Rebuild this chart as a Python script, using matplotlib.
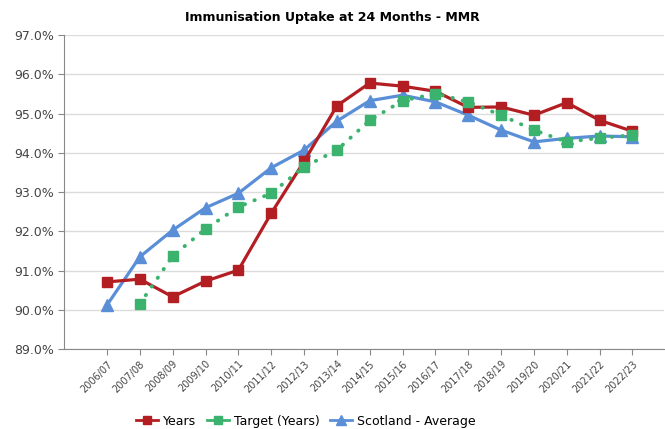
import numpy as np
import matplotlib.pyplot as plt
from matplotlib.lines import Line2D

plt.rcParams['font.family'] = ['DejaVu Sans']

years = ['2006/07', '2007/08', '2008/09', '2009/10', '2010/11', '2011/12',
         '2012/13', '2013/14', '2014/15', '2015/16', '2016/17', '2017/18',
         '2018/19', '2019/20', '2020/21', '2021/22', '2022/23']

uptake = [90.71, 90.78, 90.33, 90.73, 91.01, 92.46, 93.78, 95.20, 95.78,
          95.70, 95.57, 95.16, 95.17, 94.96, 95.28, 94.83, 94.55]

target = [np.nan, 90.15, 91.37, 92.06, 92.62, 92.97, 93.64, 94.07, 94.83,
          95.33, 95.51, 95.30, 94.96, 94.58, 94.28, 94.38, 94.45]

scotland = [90.12, 91.35, 92.03, 92.60, 92.97, 93.62, 94.07, 94.81, 95.33,
            95.47, 95.30, 94.96, 94.58, 94.28, 94.37, 94.43, 94.41]

yticks = [89, 90, 91, 92, 93, 94, 95, 96, 97]

red, green, blue = '#b31e23', '#3bb36e', '#5a8fd8'

fig = plt.figure(figsize=(6.65, 4.29), dpi=100)
ax = fig.add_axes([0.0962, 0.1865, 0.9018, 0.7315])

x = np.arange(len(years))
ax.plot(x, uptake, color=red, lw=2.3, marker='s', ms=7, zorder=3)
ax.plot(x, target, color=green, lw=2.8, ls=(0, (0.1, 2.6)), dash_capstyle='round',
        marker='s', ms=7, zorder=4)
ax.plot(x, scotland, color=blue, lw=2.3, marker='^', ms=8.5, zorder=2)

ax.set_xlim(-1.31, 16.95)
ax.set_ylim(89, 97)
ax.set_yticks(yticks)
ax.set_yticklabels([f'{v:.1f}%' for v in yticks], fontsize=9, color='#444444')
ax.set_xticks(x)
ax.set_xticklabels(years, rotation=45, ha='right', rotation_mode='anchor',
                   fontsize=7, color='#444444')
ax.tick_params(axis='y', length=4, color='#888888', pad=3)
ax.tick_params(axis='x', length=4, color='#888888', pad=3)
ax.grid(axis='y', color='#dcdcdc', lw=1)
ax.set_axisbelow(True)
for s in ['top', 'right']:
    ax.spines[s].set_visible(False)
for s in ['left', 'bottom']:
    ax.spines[s].set_color('#888888')

fig.suptitle('Immunisation Uptake at 24 Months - MMR', x=0.5, y=0.975,
             fontsize=9, fontweight='bold')

# legend handles drawn solid, as in the original
handles = [Line2D([], [], color=red, lw=2, marker='s', ms=6),
           Line2D([], [], color=green, lw=2, marker='s', ms=6),
           Line2D([], [], color=blue, lw=2, marker='^', ms=7)]
labels = ['Years', 'Target (Years)', 'Scotland - Average']
fig.legend(handles, labels, loc='center', bbox_to_anchor=(0.46, 0.018), ncol=3,
           frameon=False, fontsize=9, handlelength=1.8, columnspacing=0.8,
           handletextpad=0.4)

fig.savefig('out.png', dpi=100)
